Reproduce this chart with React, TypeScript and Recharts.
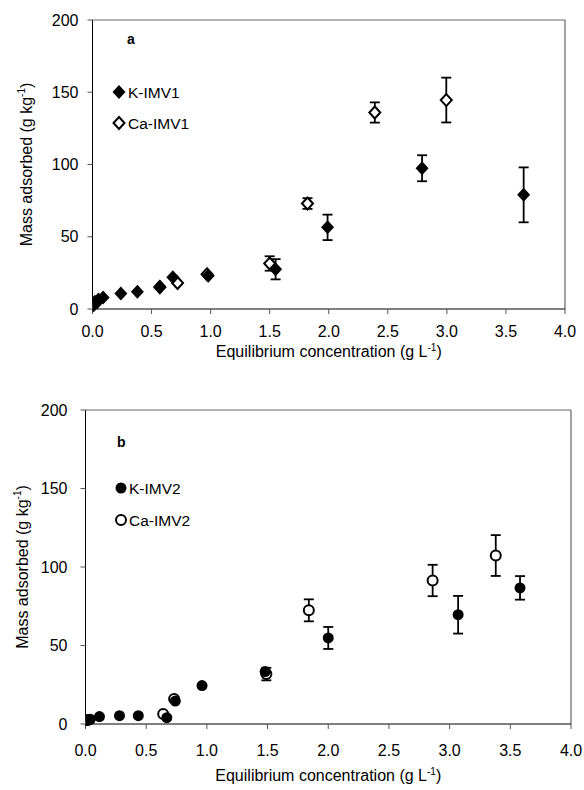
import { ScatterChart, Scatter, XAxis, YAxis, ErrorBar, ReferenceLine } from "recharts";

// panel a: [concentration, mass adsorbed, error]
const kImv1 = [
  [0.0, 3], [0.02, 5], [0.05, 6.5], [0.09, 8], [0.24, 10.7], [0.38, 12],
  [0.57, 15.5], [0.68, 22], [0.98, 23], [1.55, 27.5, 7], [1.99, 56.5, 8.8],
  [2.79, 97.4, 9], [3.65, 79, 19],
];
const caImv1 = [
  [0.01, 3], [0.04, 5], [0.57, 15], [0.72, 18], [0.97, 24], [1.5, 31.5, 5],
  [1.82, 73, 3.7], [2.39, 136, 7], [2.995, 144.6, 15.5],
];

// panel b
const kImv2 = [
  [0.0, 2], [0.04, 3], [0.115, 4.7], [0.28, 5.3], [0.435, 5.3], [0.67, 4],
  [0.74, 14.6], [0.96, 24.5], [1.48, 33.4], [2.0, 54.8, 7], [3.07, 69.6, 12],
  [3.58, 86.7, 7.5],
];
const caImv2 = [
  [0.02, 2.5], [0.64, 6.4], [0.73, 16], [1.49, 31.8, 4], [1.84, 72.4, 7],
  [2.86, 91.4, 10], [3.38, 107.3, 13],
];

const xTicks = [0, 0.5, 1, 1.5, 2, 2.5, 3, 3.5, 4];
const yTicks = [0, 50, 100, 150, 200];

const FONT = '"Liberation Sans", Arial, sans-serif';

const toRows = (arr: number[][]) => arr.map(([x, y, e]) => ({ x, y, err: e }));

const FilledDiamond = (p: any) => (
  <path d={`M${p.cx},${p.cy - 7} L${p.cx + 6.5},${p.cy} L${p.cx},${p.cy + 7} L${p.cx - 6.5},${p.cy} Z`} fill="#000" />
);
const OpenDiamond = (p: any) => (
  <path d={`M${p.cx},${p.cy - 6} L${p.cx + 5.5},${p.cy} L${p.cx},${p.cy + 6} L${p.cx - 5.5},${p.cy} Z`} fill="#fff" stroke="#000" strokeWidth={2} />
);
const FilledCircle = (p: any) => <circle cx={p.cx} cy={p.cy} r={5.5} fill="#000" />;
const OpenCircle = (p: any) => <circle cx={p.cx} cy={p.cy} r={5} fill="#fff" stroke="#000" strokeWidth={2} />;

function XTitle({ viewBox, dy }: any) {
  const { x, y, width } = viewBox;
  return (
    <text x={x + width / 2} y={y + dy} textAnchor="middle" fontSize={16} fontFamily={FONT} fill="#000">
      Equilibrium concentration (g L<tspan fontSize={10} dy={-6}>-1</tspan><tspan dy={6}>)</tspan>
    </text>
  );
}

function YTitle({ viewBox, cx }: any) {
  const { y, height } = viewBox;
  const cy = y + height / 2;
  return (
    <text x={cx} y={cy} transform={`rotate(-90 ${cx} ${cy})`} textAnchor="middle" dominantBaseline="middle"
      fontSize={16} fontFamily={FONT} fill="#000">
      Mass adsorbed (g kg<tspan fontSize={10} dy={-6}>-1</tspan><tspan dy={6}>)</tspan>
    </text>
  );
}

function Panel({ k, ca, kShape, caShape, height, yAxisW, xAxisH, right, tickGapX, tickGapY, xTitleDy, yTitleX }: any) {
  const tick = { fontSize: 16, fontFamily: FONT, fill: "#000" };
  return (
    <ScatterChart width={584} height={height} margin={{ top: 20, right, left: 0, bottom: 0 }}>
      <XAxis type="number" dataKey="x" domain={[0, 4]} ticks={xTicks} tickFormatter={(v) => v.toFixed(1)}
        height={xAxisH} tick={tick} tickSize={5} tickMargin={tickGapX} axisLine={{ stroke: "#000" }}
        tickLine={{ stroke: "#555" }} allowDataOverflow
        label={{ content: (p: any) => <XTitle viewBox={p.viewBox} dy={xTitleDy} /> }} />
      <YAxis type="number" dataKey="y" domain={[0, 200]} ticks={yTicks} width={yAxisW} tick={tick}
        tickSize={5} tickMargin={tickGapY} axisLine={{ stroke: "#000" }} tickLine={{ stroke: "#555" }}
        label={{ content: (p: any) => <YTitle viewBox={p.viewBox} cx={yTitleX} /> }} />
      <ReferenceLine y={200} stroke="#666" />
      <ReferenceLine x={4} stroke="#444" />
      <Scatter data={toRows(ca)} shape={caShape} isAnimationActive={false}>
        <ErrorBar dataKey="err" direction="y" width={5} stroke="#000" strokeWidth={1.8} />
      </Scatter>
      <Scatter data={toRows(k)} shape={kShape} isAnimationActive={false}>
        <ErrorBar dataKey="err" direction="y" width={5} stroke="#000" strokeWidth={1.8} />
      </Scatter>
    </ScatterChart>
  );
}

function Legend({ top, left, letter, items }: any) {
  return (
    <svg width={220} height={160} style={{ position: "absolute", left: 0, top }}>
      <text x={left.letter} y={letter.y} fontSize={14} fontWeight="bold" fontFamily={FONT}>{letter.text}</text>
      {items.map((it: any, i: number) => (
        <g key={i}>
          {it.shape({ cx: left.marker, cy: it.y })}
          <text x={left.text} y={it.y} dominantBaseline="central" fontSize={15.5} fontFamily={FONT}>{it.name}</text>
        </g>
      ))}
    </svg>
  );
}

export default function App() {
  return (
    <div style={{ position: "absolute", left: 0, top: 0, width: 584, height: 790, background: "#fff", fontFamily: FONT }}>
      <div style={{ position: "absolute", left: 0, top: 0 }}>
        <Panel k={kImv1} ca={caImv1} kShape={FilledDiamond} caShape={OpenDiamond} height={390}
          yAxisW={92.5} xAxisH={81} right={19} tickGapX={12} tickGapY={9} xTitleDy={48} yTitleX={28} />
      </div>
      <Legend top={0} letter={{ text: "a", y: 44 }} left={{ letter: 127, marker: 119, text: 128 }}
        items={[
          { name: "K-IMV1", y: 92, shape: FilledDiamond },
          { name: "Ca-IMV1", y: 123, shape: OpenDiamond },
        ]} />
      <div style={{ position: "absolute", left: 0, top: 390 }}>
        <Panel k={kImv2} ca={caImv2} kShape={FilledCircle} caShape={OpenCircle} height={400}
          yAxisW={85.5} xAxisH={66} right={13} tickGapX={16} tickGapY={13} xTitleDy={57} yTitleX={24} />
      </div>
      <Legend top={390} letter={{ text: "b", y: 57 }} left={{ letter: 117, marker: 121, text: 129 }}
        items={[
          { name: "K-IMV2", y: 98, shape: FilledCircle },
          { name: "Ca-IMV2", y: 130, shape: OpenCircle },
        ]} />
    </div>
  );
}
